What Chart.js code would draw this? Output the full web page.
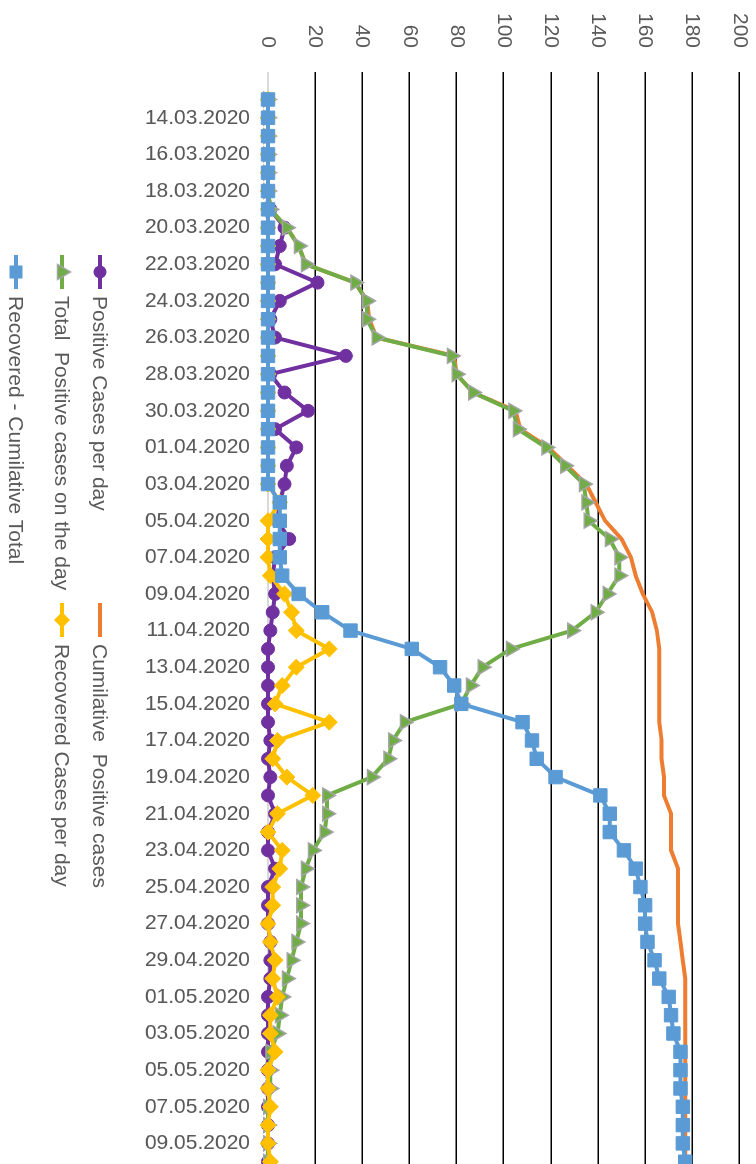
<!DOCTYPE html>
<html>
<head>
<meta charset="utf-8">
<script src="https://cdn.jsdelivr.net/npm/chart.js@4.4.1/dist/chart.umd.min.js"></script>
<style>
  html, body { margin: 0; padding: 0; background: #fff; }
  body { width: 756px; height: 1164px; overflow: hidden; position: relative; }
  /* chart is drawn upright, then the whole block is turned 90deg clockwise */
  #wrap { position: absolute; left: 756px; top: 0; width: 1205px; height: 756px;
          transform-origin: 0 0; transform: rotate(90deg); }
  #chart { position: absolute; left: 0; top: -20px; }
  .lg { position: absolute; display: flex; align-items: center; height: 24px;
        font: 21px "Liberation Sans", Arial, sans-serif; color: #595959; white-space: pre; }
  .lg svg { margin-right: 7px; }
</style>
</head>
<body>
<div id="wrap">
  <canvas id="chart" width="1205" height="776"></canvas>
  <div id="legend"></div>
</div>
<script>
// categories (first slot is blank in the source sheet)
const dates = ['',
  '13.03.2020','14.03.2020','15.03.2020','16.03.2020','17.03.2020','18.03.2020','19.03.2020',
  '20.03.2020','21.03.2020','22.03.2020','23.03.2020','24.03.2020','25.03.2020','26.03.2020',
  '27.03.2020','28.03.2020','29.03.2020','30.03.2020','31.03.2020',
  '01.04.2020','02.04.2020','03.04.2020','04.04.2020','05.04.2020','06.04.2020','07.04.2020',
  '08.04.2020','09.04.2020','10.04.2020','11.04.2020','12.04.2020','13.04.2020','14.04.2020',
  '15.04.2020','16.04.2020','17.04.2020','18.04.2020','19.04.2020','20.04.2020','21.04.2020',
  '22.04.2020','23.04.2020','24.04.2020','25.04.2020','26.04.2020','27.04.2020','28.04.2020',
  '29.04.2020','30.04.2020',
  '01.05.2020','02.05.2020','03.05.2020','04.05.2020','05.05.2020','06.05.2020','07.05.2020',
  '08.05.2020','09.05.2020','10.05.2020'];

const positivePerDay = [null,0,0,0,0,0,0,1,7,5,
  3,21,5,1,3,33,1,7,17,3,
  12,8,7,5,4,9,3,2,3,2,
  1,0,0,0,0,0,1,0,1,0,
  3,0,0,3,0,0,0,1,1,1,
  0,0,0,0,0,0,0,0,0,0];

const cumulativePositive = [null,0,0,0,0,0,0,1,8,13,
  16,37,42,43,46,79,80,87,105,107,
  119,127,135,139,143,150,154,156,159,163,
  165,166,166,166,166,166,167,167,168,168,
  171,171,171,174,174,174,174,175,176,177,
  177,177,177,177,177,177,177,177,177,177];

const activeOnDay = [null,0,0,0,0,0,0,1,8,13,
  16,37,42,42,46,78,80,87,104,106,
  118,126,134,135,136,145,149,149,144,139,
  129,103,91,86,82,58,53,51,44,25,
  25,24,19,16,14,14,14,12,10,8,
  6,5,4,1,1,1,0,0,0,0];

const recoveredPerDay = [null,0,0,0,0,0,0,0,0,0,
  0,0,0,0,0,0,0,0,0,0,
  0,0,0,5,0,0,0,1,7,10,
  12,26,12,6,3,26,4,2,8,19,
  4,0,6,5,2,2,0,1,3,2,
  4,1,1,3,0,0,1,0,0,1];

const recoveredTotal = [null,0,0,0,0,0,0,0,0,0,
  0,0,0,0,0,0,0,0,0,0,
  0,0,0,5,5,5,5,6,13,23,
  35,61,73,79,82,108,112,114,122,141,
  145,145,151,156,158,160,160,161,164,166,
  170,171,172,175,175,175,176,176,176,177];

const valueTicks = [0, 20, 40, 60, 80, 100, 120, 140, 160, 180, 200];

const PURPLE = '#7030A0', ORANGE = '#ED7D31', GREEN = '#70AD47', YELLOW = '#FFC000', BLUE = '#5B9BD5';
const FONT = { family: '"Liberation Sans", Arial, sans-serif', size: 21 };

function series(label, data, color, extra) {
  return Object.assign({
    label: label,
    data: data,
    borderColor: color,
    backgroundColor: color,
    pointBackgroundColor: color,
    pointBorderColor: color,
    borderWidth: 4,
    pointBorderWidth: 1,
    tension: 0,
    clip: false,
    spanGaps: false
  }, extra);
}

new Chart(document.getElementById('chart'), {
  type: 'line',
  data: {
    labels: dates,
    datasets: [
      series('Positive Cases per day', positivePerDay, PURPLE,
        { pointStyle: 'circle', pointRadius: 6.5, order: 5 }),
      series('Cumilative  Positive cases', cumulativePositive, ORANGE,
        { pointRadius: 0, order: 4 }),
      series('Total  Positive cases on the day', activeOnDay, GREEN,
        { pointStyle: 'triangle', pointRadius: 8.5, pointBorderColor: '#A5A5A5', pointBorderWidth: 1.5, order: 3 }),
      series('Recovered Cases per day', recoveredPerDay, YELLOW,
        { pointStyle: 'rectRot', pointRadius: 8, order: 2 }),
      series('Recovered - Cumilative Total', recoveredTotal, BLUE,
        { pointStyle: 'rect', pointRadius: 9.5, order: 1 })
    ]
  },
  options: {
    responsive: false,
    animation: false,
    layout: { padding: { top: 18, right: 10, left: 0, bottom: 0 } },
    plugins: { legend: { display: false }, tooltip: { enabled: false } },
    scales: {
      x: {
        type: 'category',
        offset: true,
        grid: { display: false, drawTicks: false },
        border: { display: false },
        afterFit: (scale) => { scale.height = 268; },
        ticks: {
          autoSkip: false,
          minRotation: 90,
          maxRotation: 90,
          padding: 18,
          color: '#595959',
          font: FONT,
          callback: function(val, idx) { return idx % 2 === 0 ? this.getLabelForValue(val) : ''; }
        }
      },
      y: {
        min: 0,
        max: 200,
        afterBuildTicks: (scale) => { scale.ticks = valueTicks.map(v => ({ value: v })); },
        afterFit: (scale) => { scale.width = 72; },
        border: { display: false },
        grid: {
          drawTicks: false,
          lineWidth: (ctx) => ctx.tick && ctx.tick.value === 0 ? 2 : 1.6,
          color: (ctx) => ctx.tick && ctx.tick.value === 0 ? '#D9D9D9' : '#000000'
        },
        ticks: { padding: 24, color: '#595959', font: FONT }
      }
    }
  }
});

// legend laid out like the Excel one (two columns, three rows)
const legendItems = [
  { text: 'Positive Cases per day', color: PURPLE, mark: 'circle', x: 255, y: 656 },
  { text: 'Cumilative  Positive cases', color: ORANGE, mark: 'none', x: 603, y: 656 },
  { text: 'Total  Positive cases on the day', color: GREEN, mark: 'triangle', x: 255, y: 694 },
  { text: 'Recovered Cases per day', color: YELLOW, mark: 'diamond', x: 603, y: 694 },
  { text: 'Recovered - Cumilative Total', color: BLUE, mark: 'square', x: 255, y: 740 }
];

function markSvg(item) {
  let m = '';
  if (item.mark === 'circle') m = `<circle cx="17" cy="12" r="6.5" fill="${item.color}"/>`;
  if (item.mark === 'triangle') m = `<polygon points="17,3.5 24.5,16.5 9.5,16.5" fill="${item.color}" stroke="#A5A5A5" stroke-width="1.5"/>`;
  if (item.mark === 'diamond') m = `<polygon points="17,4 25,12 17,20 9,12" fill="${item.color}"/>`;
  if (item.mark === 'square') m = `<rect x="10.5" y="5.5" width="13" height="13" fill="${item.color}"/>`;
  return `<svg width="34" height="24" viewBox="0 0 34 24"><line x1="0" y1="12" x2="34" y2="12" stroke="${item.color}" stroke-width="4"/>${m}</svg>`;
}

const legend = document.getElementById('legend');
legendItems.forEach(item => {
  const el = document.createElement('div');
  el.className = 'lg';
  el.style.left = item.x + 'px';
  el.style.top = (item.y - 12) + 'px';
  el.innerHTML = markSvg(item) + '<span>' + item.text + '</span>';
  legend.appendChild(el);
});
</script>
</body>
</html>
